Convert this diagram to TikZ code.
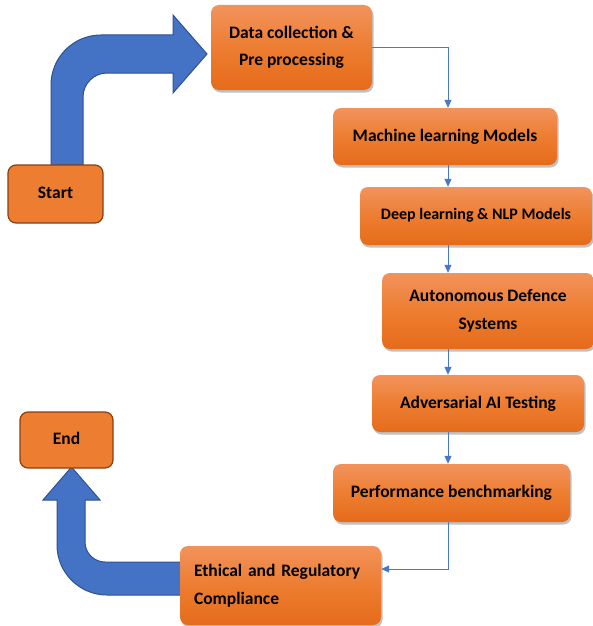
\documentclass[tikz,border=0pt]{standalone}
\usepackage{fontspec}
\setmainfont{Carlito}
\usetikzlibrary{shadows,arrows.meta,calc}

\definecolor{orflat}{HTML}{ED7D31}
\definecolor{ortop}{HTML}{F2935C}
\definecolor{orbot}{HTML}{E66B1B}
\definecolor{orline}{HTML}{8A3F10}
\definecolor{bluefill}{HTML}{4472C4}
\definecolor{blueline}{HTML}{2F528F}
\definecolor{linkcol}{HTML}{4A78C8}

\tikzset{
  stepbox/.style={rounded corners=8pt, top color=ortop, bottom color=orbot,
    middle color=orflat,
    drop shadow={shadow xshift=1.5pt, shadow yshift=-2.5pt, opacity=0.35, fill=black!70},
    font=\bfseries\fontsize{17.5}{27.5}\selectfont, align=center, inner sep=0pt},
  termbox/.style={rounded corners=8pt, fill=orflat, draw=orline, line width=1.2pt,
    font=\bfseries\fontsize{17.5}{21}\selectfont, inner sep=0pt},
  bigarrow/.style={fill=bluefill, draw=blueline, line width=1pt, line join=miter},
  link/.style={draw=linkcol, line width=0.8pt, -{Triangle[width=7pt,length=8pt]}}
}

\begin{document}
\begin{tikzpicture}[x=1pt, y=-1pt]
\useasboundingbox (0,0) rectangle (592,626);

% broad arrow from Start up and over to the first step
\path[bigarrow] (51,165) -- (51,85)
  .. controls (51,57.4) and (73.4,35) .. (101,35)
  -- (173,35) -- (173,15) -- (207,54) -- (173,93) -- (173,73)
  -- (107,73) .. controls (93.8,73) and (83,83.8) .. (83,97)
  -- (83,165) -- cycle;

% broad arrow from the last step back up to End
\path[bigarrow] (185,562) -- (105,562)
  .. controls (94,562) and (85,553) .. (85,542)
  -- (85,500) -- (100,500) -- (71.5,467) -- (43,500) -- (57,500)
  -- (57,545) .. controls (57,572.6) and (79.4,595) .. (107,595)
  -- (185,595) -- cycle;

% terminals
\node[termbox, minimum width=95pt, minimum height=58pt] (start) at (55.5,194) {\raisebox{3pt}{Start}};
\node[termbox, minimum width=93pt, minimum height=56pt] (end) at (66.5,440) {\raisebox{4pt}{End}};

% process steps
\node[stepbox, minimum width=161pt, minimum height=85pt] (data) at (291.5,47.5)
  {Data collection \&\\Pre processing};
\node[stepbox, minimum width=224pt, minimum height=57pt] (mach) at (445,136.5)
  {\raisebox{3pt}{Machine learning Models}};
\node[stepbox, minimum width=232pt, minimum height=58pt, font=\bfseries\fontsize{16}{20}\selectfont] (deep) at (476,216)
  {\raisebox{5pt}{Deep learning \& NLP Models}};
\node[stepbox, minimum width=212pt, minimum height=76pt] (auto) at (488,311)
  {Autonomous Defence\\Systems};
\node[stepbox, minimum width=212pt, minimum height=57pt] (adv) at (478,403.5)
  {\raisebox{3pt}{Adversarial AI Testing}};
\node[stepbox, minimum width=237pt, minimum height=58pt] (perf) at (451.5,493)
  {\raisebox{4pt}{Performance benchmarking}};
\node[stepbox, minimum width=201pt, minimum height=79pt, align=left, text width=173pt, inner xsep=14pt] (eth) at (280.5,585.5)
  {Ethical and Regulatory\\Compliance};

% thin connectors along the right-hand column
\coordinate (col) at (448,0);
\draw[link] (data.east) -| (col |- mach.north);
\draw[link] (col |- mach.south) -- (col |- deep.north);
\draw[link] (col |- deep.south) -- (col |- auto.north);
\draw[link] (col |- auto.south) -- (col |- adv.north);
\draw[link] (col |- adv.south) -- (col |- perf.north);
\coordinate (turn) at (448,569);
\draw[link] (col |- perf.south) -- (turn) -- (turn -| eth.east);
\end{tikzpicture}
\end{document}
